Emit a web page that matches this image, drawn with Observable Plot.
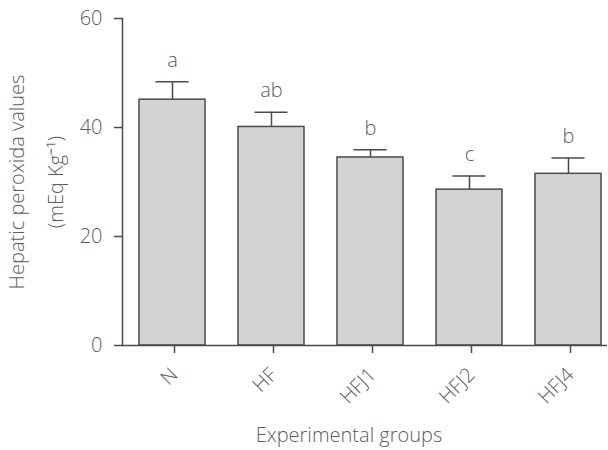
<!DOCTYPE html>
<html><head>
<meta charset="utf-8">
<script src="https://cdn.jsdelivr.net/npm/d3@7"></script>
<script src="https://cdn.jsdelivr.net/npm/@observablehq/plot@0.6"></script>
<style>body{margin:0;background:#fff}</style>
</head><body><div id="chart"></div>
<script>
const groups = ["N", "HF", "HFJ1", "HFJ2", "HFJ4"];
const means = [45.1, 40.1, 34.5, 28.6, 31.5];
const errors = [3.3, 2.7, 1.4, 2.5, 2.9];
const letters = ["a", "ab", "b", "c", "b"];
const yTicks = [0, 20, 40, 60];
const yTitle = ["Hepatic peroxida values", "(mEq Kg\u207B\u00B9)"];
const xTitle = ["Experimental groups"];

const data = groups.map((g, i) => ({group: g, mean: means[i], upper: means[i] + errors[i], letter: letters[i]}));
const font = "'Open Sans', sans-serif";
const ink = "#5c5c5c";
const line = "#4a4a4a";
const fs = 20;

const plot = Plot.plot({
  width: 608, height: 450,
  marginLeft: 122, marginRight: 1, marginTop: 18, marginBottom: 105,
  style: {fontFamily: font, fontSize: fs + "px", color: ink, background: "#fff"},
  x: {domain: groups, range: [122, 617], paddingInner: 0.335, paddingOuter: 0.161, label: null},
  y: {domain: [0, 60], ticks: yTicks, label: null},
  marks: [
    Plot.barY(data, {x: "group", y: "mean", fill: "#d3d3d3", stroke: line, strokeWidth: 1.5}),
    Plot.ruleX(data, {x: "group", y1: "mean", y2: "upper", stroke: line, strokeWidth: 1.5}),
    Plot.tickY(data, {x: "group", y: "upper", insetLeft: 16.5, insetRight: 16.5, stroke: line, strokeWidth: 1.5}),
    Plot.text(data, {x: "group", y: "upper", text: "letter", dy: -15, lineAnchor: "bottom", fill: ink, fontSize: fs, fontWeight: 300}),
    Plot.ruleY([0], {stroke: line, strokeWidth: 1.5}),
    Plot.frame({anchor: "left", stroke: line, strokeWidth: 1.5}),
    Plot.axisY({ticks: yTicks, tickSize: 8, tickPadding: 12, stroke: line, strokeWidth: 1.5, fill: ink, fontSize: fs, fontWeight: 300}),
    Plot.axisX({tickSize: 8, tickRotate: -45, tickPadding: 18, dx: 2, stroke: line, strokeWidth: 1.5, fill: ink, fontSize: fs, fontWeight: 300, label: null}),
    Plot.text([yTitle[0]], {frameAnchor: "left", textAnchor: "middle", lineAnchor: "middle", dx: -105, rotate: -90, fill: ink, fontSize: fs, fontWeight: 300}),
    Plot.text([yTitle[1]], {frameAnchor: "left", textAnchor: "middle", lineAnchor: "middle", dx: -66, rotate: -90, fill: ink, fontSize: fs, fontWeight: 300}),
    Plot.text(xTitle, {frameAnchor: "bottom", textAnchor: "middle", lineAnchor: "middle", dy: 90, dx: -16, fill: ink, fontSize: fs, fontWeight: 300})
  ]
});
document.getElementById("chart").appendChild(plot);
</script>
</body></html>
